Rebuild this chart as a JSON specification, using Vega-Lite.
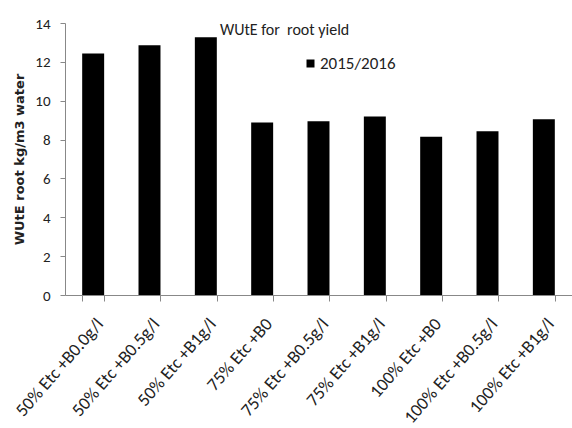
{
  "$schema": "https://vega.github.io/schema/vega-lite/v6.json",
  "autosize": {"type": "none"},
  "padding": {"left": 65, "top": 23, "right": 0, "bottom": 133},
  "width": 507,
  "height": 272,
  "background": "white",
  "title": {
    "text": "WUtE for\u00a0 root yield",
    "anchor": "start",
    "frame": "group",
    "dx": 155,
    "offset": -22,
    "baseline": "top",
    "font": "Carlito, Lato",
    "fontSize": 16,
    "fontWeight": "normal",
    "color": "#222222"
  },
  "data": {
    "values": [
      {"treatment": "50% Etc +B0.0g/l", "season": "2015/2016", "wute": 12.43},
      {"treatment": "50% Etc +B0.5g/l", "season": "2015/2016", "wute": 12.86},
      {"treatment": "50% Etc +B1g/l", "season": "2015/2016", "wute": 13.27},
      {"treatment": "75% Etc +B0", "season": "2015/2016", "wute": 8.88},
      {"treatment": "75% Etc +B0.5g/l", "season": "2015/2016", "wute": 8.94},
      {"treatment": "75% Etc +B1g/l", "season": "2015/2016", "wute": 9.19},
      {"treatment": "100% Etc +B0", "season": "2015/2016", "wute": 8.15},
      {"treatment": "100% Etc +B0.5g/l", "season": "2015/2016", "wute": 8.43},
      {"treatment": "100% Etc +B1g/l", "season": "2015/2016", "wute": 9.05}
    ]
  },
  "mark": {"type": "bar"},
  "encoding": {
    "x": {
      "field": "treatment",
      "type": "nominal",
      "sort": null,
      "scale": {"paddingInner": 0.61, "paddingOuter": 0.305},
      "axis": {
        "title": null,
        "tickBand": "extent",
        "labelAngle": -49,
        "labelAlign": "right",
        "labelBaseline": "top",
        "labelFont": "Carlito, Lato",
        "labelFontSize": 18,
        "labelColor": "#222222",
        "labelPadding": 14,
        "labelDx": 3,
        "labelOverlap": false,
        "domainColor": "#888888",
        "tickColor": "#888888",
        "tickSize": 6
      }
    },
    "y": {
      "field": "wute",
      "type": "quantitative",
      "scale": {"domain": [0, 14]},
      "axis": {
        "title": "WUtE root kg/m3 water",
        "titleFont": "DejaVu Sans",
        "titleFontSize": 13,
        "titleFontWeight": "bold",
        "titleColor": "#222222",
        "titlePadding": 8,
        "values": [0, 2, 4, 6, 8, 10, 12, 14],
        "grid": false,
        "labelFont": "Carlito, Lato",
        "labelFontSize": 15,
        "labelColor": "#222222",
        "labelPadding": 10,
        "domainColor": "#888888",
        "tickColor": "#888888",
        "tickSize": 5
      }
    },
    "color": {
      "field": "season",
      "type": "nominal",
      "scale": {"range": ["#000000"]},
      "legend": {
        "title": null,
        "orient": "none",
        "legendX": 237,
        "legendY": 32,
        "padding": 0,
        "symbolType": "square",
        "symbolSize": 64,
        "symbolStrokeWidth": 0,
        "labelFont": "Carlito, Lato",
        "labelFontSize": 17,
        "labelColor": "#222222",
        "labelOffset": 1
      }
    }
  },
  "config": {"view": {"stroke": null}}
}
